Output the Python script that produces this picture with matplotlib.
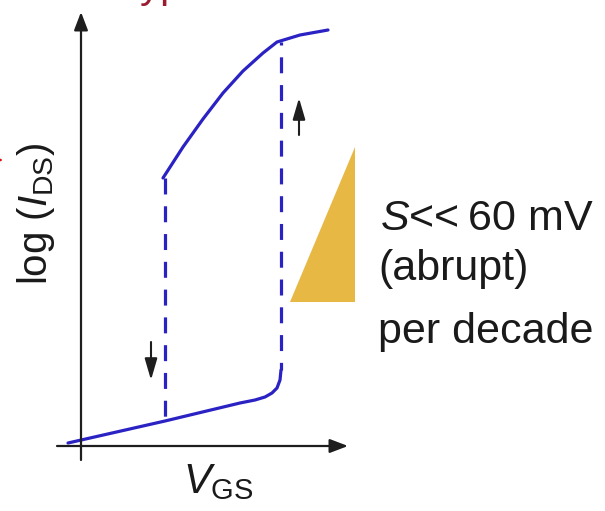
import matplotlib
matplotlib.use('Agg')
import matplotlib.pyplot as plt
from matplotlib.patches import Polygon

plt.rcParams['font.family'] = ['Liberation Sans', 'DejaVu Sans']
plt.rcParams['mathtext.fontset'] = 'custom'
plt.rcParams['mathtext.rm'] = 'Liberation Sans'
plt.rcParams['mathtext.it'] = 'Liberation Sans:italic'
plt.rcParams['mathtext.sf'] = 'Liberation Sans'
plt.rcParams['lines.scale_dashes'] = False

# ---- data (schematic units: V_GS, log I_DS) ----
vgs_off = [-0.14, 0.83, 1.58, 1.73, 1.83, 1.90, 1.95, 1.98, 1.99]
logi_off = [0.03, 0.25, 0.43, 0.46, 0.49, 0.53, 0.58, 0.66, 0.76]
vgs_on = [0.81, 1.01, 1.21, 1.41, 1.61, 1.81, 1.95, 2.18, 2.46]
logi_on = [2.68, 2.99, 3.27, 3.53, 3.75, 3.93, 4.04, 4.11, 4.16]
v_down = 0.83          # switching voltage, backward sweep
v_up = 1.99            # switching voltage, forward sweep
down_from, down_to = 2.68, 0.25
up_from, up_to = 0.76, 4.04
tri_x = [2.73, 2.08, 2.73]
tri_y = [2.99, 1.44, 1.44]

blue = '#2B22C4'
axis_c = '#1e1e1e'
txt_c = '#1a1a1a'

fig = plt.figure(figsize=(6.05, 5.11), dpi=100)
ax = fig.add_axes([0, 0, 1, 1])
ax.set_xlim(-0.82, 5.23)
ax.set_ylim(-0.65, 4.46)
ax.axis('off')

# axes with arrows
ax.annotate('', xy=(2.66, 0), xytext=(-0.25, 0),
            arrowprops=dict(arrowstyle='-|>,head_length=1.1,head_width=0.42',
                            mutation_scale=10, lw=1.6, color=axis_c,
                            shrinkA=0, shrinkB=0))
ax.annotate('', xy=(-0.01, 4.34), xytext=(-0.01, -0.14),
            arrowprops=dict(arrowstyle='-|>,head_length=1.1,head_width=0.42',
                            mutation_scale=10, lw=1.6, color=axis_c,
                            shrinkA=0, shrinkB=0))

# hysteresis branches
ax.plot(vgs_off, logi_off, color=blue, lw=2.3, solid_joinstyle='round',
        solid_capstyle='round')
ax.plot(vgs_on, logi_on, color=blue, lw=2.3, solid_joinstyle='round',
        solid_capstyle='round')
ax.plot([v_down, v_down], [down_from, down_to], color=blue, lw=2.3,
        linestyle=(0, (11.5, 8.5)))
ax.plot([v_up, v_up], [up_from, up_to], color=blue, lw=2.3,
        linestyle=(6, (11.5, 8.5)))

# sweep direction arrows
ax.annotate('', xy=(0.69, 0.66), xytext=(0.69, 1.04),
            arrowprops=dict(arrowstyle='-|>,head_length=1.3,head_width=0.38',
                            mutation_scale=10, lw=1.5, color=axis_c,
                            shrinkA=0, shrinkB=0))
ax.annotate('', xy=(2.17, 3.48), xytext=(2.17, 3.11),
            arrowprops=dict(arrowstyle='-|>,head_length=1.3,head_width=0.38',
                            mutation_scale=10, lw=1.5, color=axis_c,
                            shrinkA=0, shrinkB=0))

# slope triangle
ax.add_patch(Polygon(list(zip(tri_x, tri_y)), closed=True,
                     facecolor='#E8B845', edgecolor='none'))

# texts
fs = 31
ax.text(2.98, 2.16, '$S$<<\u200960 mV', fontsize=fs, ha='left',
        va='baseline', color=txt_c)
ax.text(2.96, 1.66, '(abrupt)', fontsize=fs, ha='left', va='baseline', color=txt_c)
ax.text(2.96, 1.03, 'per decade', fontsize=fs, ha='left', va='baseline', color=txt_c)
ax.text(1.01, -0.47, r'$V_{\mathrm{GS}}$', fontsize=30, ha='left', va='baseline', color=txt_c)
ax.text(-0.46, 2.32, r'log ($I_{\mathrm{DS}}$)', fontsize=29, rotation=90,
        ha='center', va='center', color=txt_c)

# cropped red annotation remnants at the edges
ax.text(0.30, 4.48, 'Hypothetical', fontsize=29, color='#9B1B30',
        ha='left', va='baseline', clip_on=False)
ax.annotate('', xy=(-0.79, 2.86), xytext=(-1.1, 2.86), annotation_clip=False,
            arrowprops=dict(arrowstyle='-|>,head_length=0.8,head_width=0.4',
                            mutation_scale=10, lw=1.5, color='#E01010',
                            shrinkA=0, shrinkB=0))

fig.savefig('out.png', dpi=100)
